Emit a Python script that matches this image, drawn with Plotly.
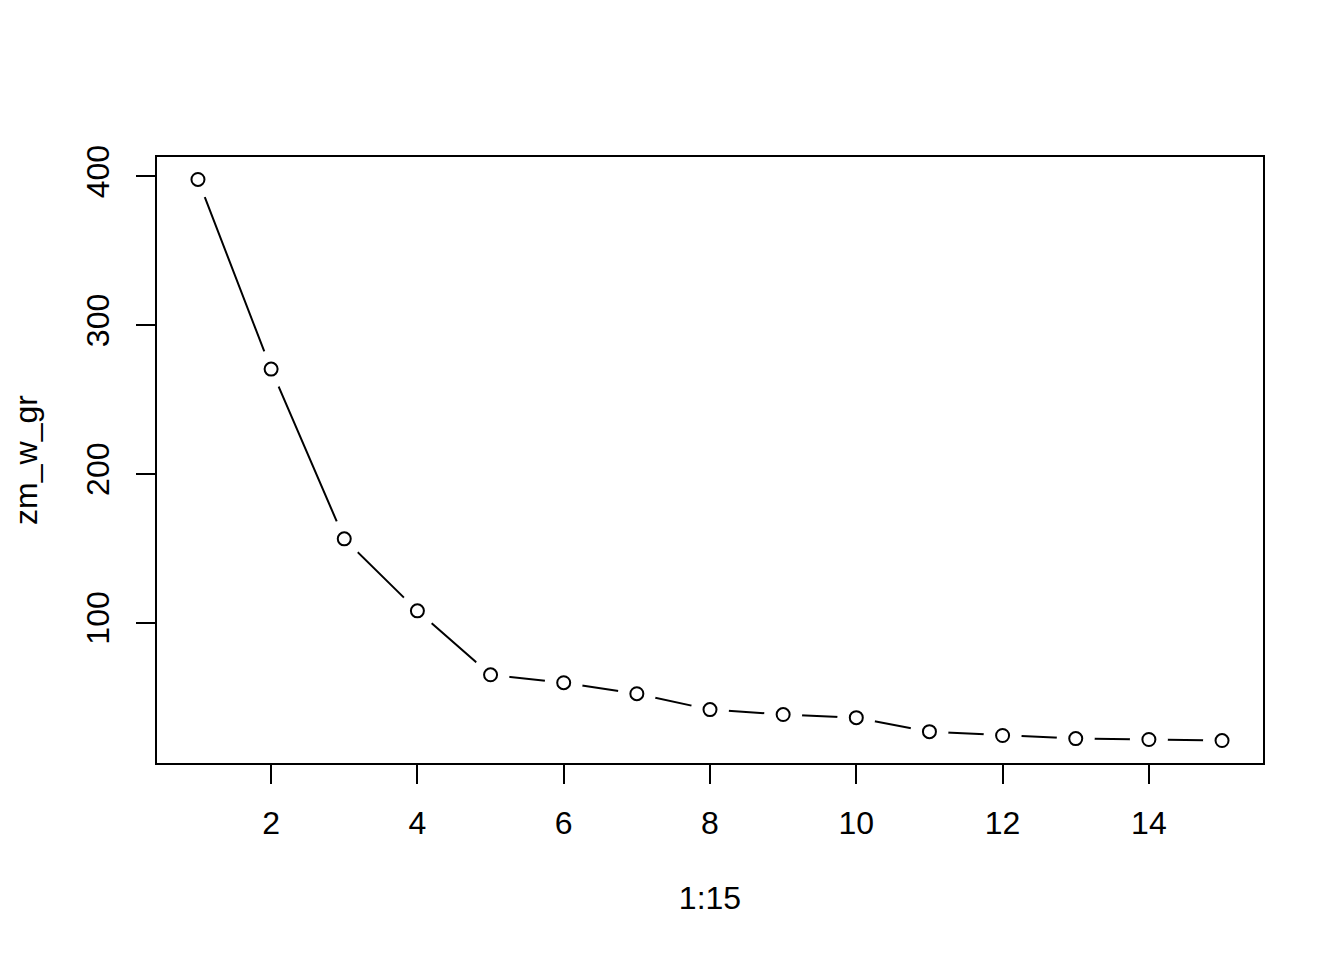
import plotly.graph_objects as go

x_vals = list(range(1, 16))
zm_w_gr = [398.0, 270.5, 156.4, 108.0, 65.0, 59.7, 52.3, 41.6, 38.3, 36.2, 26.8, 24.2, 22.1, 21.5, 20.8]
x_ticks = [2, 4, 6, 8, 10, 12, 14]
y_ticks = [100, 200, 300, 400]

xmin, xmax = min(x_vals), max(x_vals)
ymin, ymax = min(zm_w_gr), max(zm_w_gr)
xpad = (xmax - xmin) * 0.04
ypad = (ymax - ymin) * 0.04

fig = go.Figure()
fig.add_trace(go.Scatter(x=x_vals, y=zm_w_gr, mode="lines",
                         line=dict(color="black", width=2), hoverinfo="skip"))
fig.add_trace(go.Scatter(x=x_vals, y=zm_w_gr, mode="markers",
                         marker=dict(color="white", size=38, line=dict(width=0)),
                         hoverinfo="skip"))
fig.add_trace(go.Scatter(x=x_vals, y=zm_w_gr, mode="markers",
                         marker=dict(symbol="circle", color="white", size=13,
                                     line=dict(color="black", width=2))))

font = dict(family="Liberation Sans, Arial, sans-serif", size=32, color="black")
fig.update_layout(
    width=1344, height=960, autosize=False,
    margin=dict(l=149, r=89, t=149, b=205),
    paper_bgcolor="white", plot_bgcolor="white",
    showlegend=False, font=font,
)
fig.update_xaxes(
    range=[xmin - xpad, xmax + xpad], tickvals=x_ticks, ticktext=[str(v) for v in x_ticks],
    showgrid=False, zeroline=False, showline=True, linecolor="black", linewidth=2,
    mirror=True, ticks="outside", ticklen=19, tickwidth=2, tickcolor="black",
    ticklabelstandoff=12,
    title=dict(text="1:15", standoff=46, font=font), tickfont=font,
)
fig.update_yaxes(
    range=[ymin - ypad, ymax + ypad], tickvals=y_ticks, ticktext=[str(v) for v in y_ticks],
    showgrid=False, zeroline=False, showline=True, linecolor="black", linewidth=2,
    mirror=True, ticks="outside", ticklen=19, tickwidth=2, tickcolor="black",
    tickangle=-90, ticklabelstandoff=14,
    title=dict(text="zm_w_gr", standoff=37, font=font), tickfont=font,
)
fig.write_html("out.html")
